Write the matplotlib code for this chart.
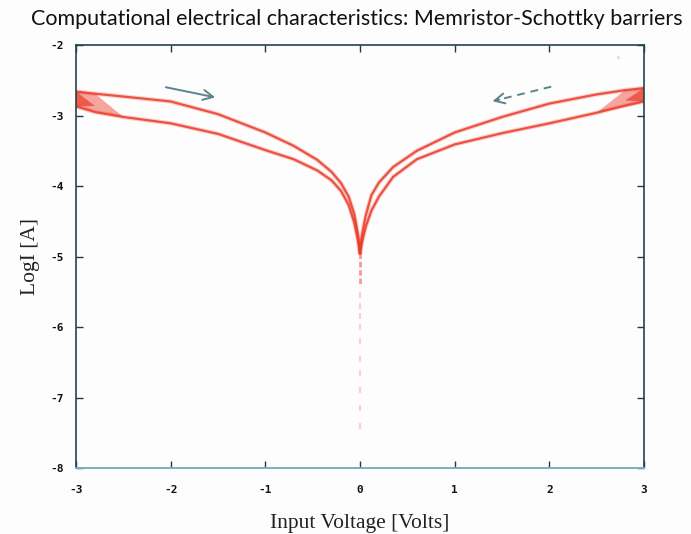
import matplotlib
matplotlib.use("Agg")
import matplotlib.pyplot as plt
from matplotlib.font_manager import FontProperties

# ---- data ----
left_x = [-3.0, -2.8, -2.5, -2.0, -1.5, -1.0, -0.7, -0.45, -0.3, -0.2, -0.12, -0.06, -0.02, 0.0]
left_upper = [-2.66, -2.69, -2.73, -2.80, -2.98, -3.24, -3.43, -3.63, -3.80, -3.96, -4.15, -4.40, -4.70, -4.95]
left_lower = [-2.87, -2.95, -3.02, -3.11, -3.26, -3.49, -3.62, -3.78, -3.92, -4.07, -4.27, -4.52, -4.78, -4.95]

right_x = [0.0, 0.02, 0.06, 0.12, 0.2, 0.35, 0.6, 1.0, 1.5, 2.0, 2.5, 2.8, 3.0]
right_upper = [-4.95, -4.70, -4.42, -4.13, -3.95, -3.73, -3.50, -3.24, -3.02, -2.83, -2.70, -2.64, -2.61]
right_lower = [-4.95, -4.80, -4.58, -4.35, -4.15, -3.87, -3.62, -3.41, -3.25, -3.11, -2.96, -2.86, -2.80]

spike_y = [-4.95, -5.1, -5.25, -5.4]
spike_dots_y = [-5.55, -5.7, -5.85, -6.0, -6.2, -6.45, -6.65, -6.9, -7.15, -7.4]
stray_point = (2.72, -2.17)

x_ticks = [-3, -2, -1, 0, 1, 2, 3]
y_ticks = [-8, -7, -6, -5, -4, -3, -2]

title = "Computational electrical characteristics: Memristor-Schottky barriers"
xlabel = "Input Voltage [Volts]"
ylabel = "LogI [A]"

RED = "#ec3a28"
ARROW = "#5d838e"

fig = plt.figure(figsize=(6.91, 5.34), dpi=100)
fig.patch.set_facecolor("#fdfdfe")
ax = fig.add_axes([0.110, 0.1236, 0.822, 0.792])
ax.set_facecolor("#fdfdfe")

# branches
for xs, ys in [(left_x, left_upper), (left_x, left_lower), (right_x, right_upper), (right_x, right_lower)]:
    ax.plot(xs, ys, color=RED, lw=3.2, alpha=0.22, solid_capstyle="round")
    ax.plot(xs, ys, color=RED, lw=1.6, alpha=0.85, solid_capstyle="round")

# dense tips at +-3 (many overlapping cycles)
ax.fill([left_x[0], left_x[1], left_x[2], left_x[1], left_x[0]],
        [left_upper[0], left_upper[1], left_lower[2], left_lower[1], left_lower[0]],
        color=RED, alpha=0.45, lw=0)
ax.fill([left_x[0], left_x[1], left_x[0]],
        [left_upper[0], (left_upper[1] + 2 * left_lower[1]) / 3, left_lower[0]],
        color=RED, alpha=0.7, lw=0)
ax.fill([right_x[-1], right_x[-2], right_x[-3], right_x[-2], right_x[-1]],
        [right_upper[-1], right_upper[-2], right_lower[-3], right_lower[-2], right_lower[-1]],
        color=RED, alpha=0.45, lw=0)
ax.fill([right_x[-1], right_x[-2], right_x[-1]],
        [right_upper[-1], (right_upper[-2] + 2 * right_lower[-2]) / 3, right_lower[-1]],
        color=RED, alpha=0.7, lw=0)

# spike at 0
ax.plot([0] * len(spike_y), spike_y, color=RED, lw=2.0, alpha=0.5, ls=(0, (2, 1)))
ax.plot([0] * len(spike_dots_y), spike_dots_y, ls="none", marker="|", ms=5, mew=1.5,
        color=RED, alpha=0.22)
ax.scatter([stray_point[0]], [stray_point[1]], s=6, color=RED, alpha=0.2, lw=0)

# arrows
ax.annotate("", xy=(-1.50, -2.75), xytext=(-2.08, -2.59),
            arrowprops=dict(arrowstyle="->", color=ARROW, lw=1.4, mutation_scale=18))
ax.plot([2.02, 1.45], [-2.59, -2.78], color=ARROW, lw=1.4, ls=(0, (4, 3)))
ax.annotate("", xy=(1.37, -2.805), xytext=(1.50, -2.765),
            arrowprops=dict(arrowstyle="->", color=ARROW, lw=1.4, mutation_scale=18))

ax.set_xlim(-3, 3)
ax.set_ylim(-8, -2)
ax.set_xticks(x_ticks)
ax.set_yticks(y_ticks)
ax.set_xticklabels([str(t) for t in x_ticks])
ax.set_yticklabels([str(t) for t in y_ticks])

tick_fp = FontProperties(family="DejaVu Sans Mono", weight="bold", size=8)
for lab in ax.get_xticklabels() + ax.get_yticklabels():
    lab.set_fontproperties(tick_fp)

ax.tick_params(direction="in", length=5, width=1.0, top=True, right=True, colors="#1f3a40",
               labelcolor="#111111")
ax.tick_params(axis="x", pad=12)
ax.tick_params(axis="y", pad=9)

for side in ["left", "right", "top"]:
    ax.spines[side].set_color("#23434a")
    ax.spines[side].set_linewidth(1.2)
ax.spines["bottom"].set_color("#7aaec4")
ax.spines["bottom"].set_linewidth(1.4)

ax.set_xlabel(xlabel, family="Liberation Serif", fontsize=15.5, color="#222222", labelpad=14)
ax.set_ylabel(ylabel, family="Liberation Serif", fontsize=15.5, color="#222222", labelpad=7)

fig.text(0.517, 0.965, title, family="Lato", fontsize=15.5, color="#111111", ha="center", va="center")

fig.savefig("out.png", dpi=100, facecolor=fig.get_facecolor())
